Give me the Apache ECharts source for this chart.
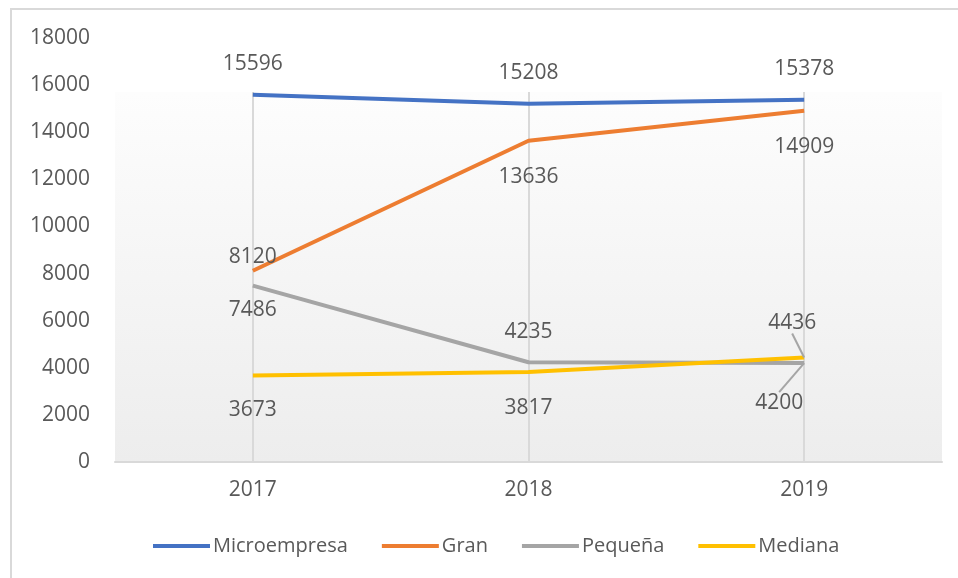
<!DOCTYPE html>
<html>
<head>
<meta charset="utf-8">
<script src="https://cdn.jsdelivr.net/npm/echarts@6/dist/echarts.min.js"></script>
<style>
  html, body { margin: 0; padding: 0; background: #fff; }
  #chart { width: 958px; height: 578px; }
</style>
</head>
<body>
<div id="chart"></div>
<script>
// 数据
var years = ['2017', '2018', '2019']
var microempresa = [15596, 15208, 15378]
var gran = [8120, 13636, 14909]
var pequena = [7486, 4235, 4200]
var mediana = [3673, 3817, 4436]
var yTicks = [0, 2000, 4000, 6000, 8000, 10000, 12000, 14000, 16000, 18000]

var textColor = '#595959'
var fontFamily = 'Open Sans'
var fontSize = 21

// 标签位置 (上 / 下, 距离, 偏移)
function labelsFor(values, places) {
  return values.map(function (v, i) {
    var p = places[i]
    return {
      value: v,
      label: { position: p[0], distance: p[1], offset: [p[2] || 0, 0] },
      labelLine: { show: !!p[3] }
    }
  })
}

function lineSeries(name, values, color, places, moves) {
  return {
    name: name,
    type: 'line',
    data: labelsFor(values, places),
    symbol: 'circle',
    symbolSize: 0.1,
    showSymbol: true,
    lineStyle: { width: 4, color: color },
    itemStyle: { color: color },
    label: {
      show: true,
      color: textColor,
      fontSize: fontSize,
      fontFamily: fontFamily
    },
    labelLine: {
      lineStyle: { color: '#a5a5a5', width: 2 }
    },
    labelLayout: function (params) {
      var m = moves && moves[params.dataIndex]
      if (m) return { dx: m[0], dy: m[1] }
      return {}
    },
    z: 3
  }
}

var myChart = echarts.init(document.getElementById('chart'))
var option = {
  animation: false,
  color: ['#4472C4', '#ED7D31', '#A5A5A5', '#FFC000'],
  graphic: [{
    type: 'rect',
    shape: { x: 11, y: 9, width: 1000, height: 600 },
    style: { fill: 'none', stroke: '#d9d9d9', lineWidth: 2 },
    silent: true,
    z: -10
  }],
  grid: {
    left: 115,
    right: 16,
    top: 38,
    bottom: 116,
    show: true,
    borderWidth: 0,
    backgroundColor: new echarts.graphic.LinearGradient(0, 0, 0, 1, [
      { offset: 0, color: '#ffffff' },
      { offset: 0.127, color: '#ffffff' },
      { offset: 0.128, color: '#fdfdfd' },
      { offset: 1, color: '#ededed' }
    ])
  },
  legend: {
    bottom: 17,
    left: 148,
    itemWidth: 57,
    itemHeight: 4,
    itemGap: 34,
    icon: 'rect',
    textStyle: { color: textColor, fontSize: 20, fontFamily: fontFamily, padding: [0, 0, 0, -2] },
    data: ['Microempresa', 'Gran', 'Pequeña', 'Mediana']
  },
  xAxis: {
    type: 'category',
    data: years,
    boundaryGap: true,
    axisLine: { show: true, lineStyle: { color: '#d9d9d9', width: 2 } },
    axisTick: {
      show: true,
      inside: true,
      alignWithLabel: true,
      length: 370,
      lineStyle: { color: '#d9d9d9', width: 2 }
    },
    splitLine: { show: false },
    axisLabel: { color: textColor, fontSize: fontSize, fontFamily: fontFamily, margin: 18 }
  },
  yAxis: {
    type: 'value',
    min: yTicks[0],
    max: yTicks[yTicks.length - 1],
    interval: 2000,
    axisLine: { show: false },
    axisTick: { show: false },
    splitLine: { show: false },
    axisLabel: {
      color: textColor, fontSize: fontSize, fontFamily: fontFamily, margin: 25,
      formatter: function (v) { return String(v) }
    }
  },
  series: [
    lineSeries('Microempresa', microempresa, '#4472C4',
      [['top', 20], ['top', 20], ['top', 20]]),
    lineSeries('Gran', gran, '#ED7D31',
      [['top', 3, -8], ['bottom', 26], ['bottom', 26]]),
    lineSeries('Pequeña', pequena, '#A5A5A5',
      [['bottom', 14, -18], ['top', 20], ['bottom', 4, 0, true]],
      [null, null, [-25, 25]]),
    lineSeries('Mediana', mediana, '#FFC000',
      [['bottom', 24], ['bottom', 25], ['top', 4, 0, true]],
      [null, null, [-12, -20]])
  ]
}
myChart.setOption(option)
window.addEventListener('resize', function () {
  myChart.resize()
})
</script>
</body>
</html>
